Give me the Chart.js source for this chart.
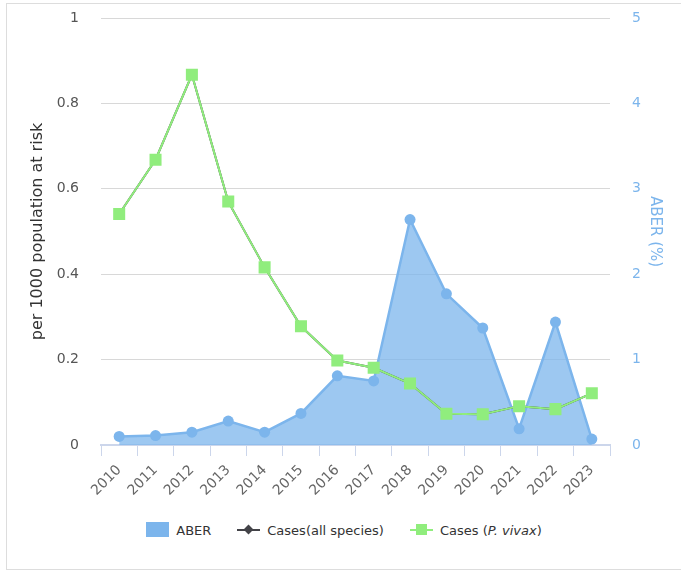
<!DOCTYPE html>
<html>
<head>
<meta charset="utf-8">
<script src="https://cdn.jsdelivr.net/npm/chart.js@4/dist/chart.umd.min.js"></script>
<style>
  body { margin: 0; background: #fff; font-family: "DejaVu Sans", sans-serif; }
  .frame { position: absolute; left: 6px; top: 3px; width: 690px; height: 565px; border: 1px solid #ddd; }
  #wrap { position: absolute; left: 0; top: 0; width: 681px; height: 510px; }
  .legend { position: absolute; left: -3px; top: 521px; width: 694px; display: flex; justify-content: center;
    font-size: 13px; color: #333; }
  .item { display: flex; align-items: center; margin: 0 13px; height: 18px; }
  .sym { position: relative; width: 23px; height: 16px; margin-right: 7px; }
  .box { width: 23px; height: 15px; background: #7cb5ec; }
  .ln { position: absolute; left: 0; right: 0; top: 7px; height: 2px; }
  .dia { position: absolute; left: 8px; top: 4px; width: 7px; height: 7px; background: #434348; transform: rotate(45deg); }
  .sq { position: absolute; left: 6px; top: 2px; width: 11px; height: 11px; background: #90ed7d; }
</style>
</head>
<body>
<div class="frame"></div>
<div id="wrap"><canvas id="chart"></canvas></div>
<div class="legend">
  <div class="item"><div class="sym"><div class="box"></div></div>ABER</div>
  <div class="item"><div class="sym"><div class="ln" style="background:#434348"></div><div class="dia"></div></div>Cases(all species)</div>
  <div class="item"><div class="sym"><div class="ln" style="background:#90ed7d"></div><div class="sq"></div></div>Cases (<i>P. vivax</i>)</div>
</div>
<script>
  const years = ["2010", "2011", "2012", "2013", "2014", "2015", "2016", "2017", "2018", "2019", "2020", "2021", "2022", "2023"];
  // ABER (%) - right axis
  const aber = [0.10, 0.11, 0.15, 0.28, 0.15, 0.37, 0.81, 0.75, 2.64, 1.77, 1.37, 0.19, 1.44, 0.07];
  // cases per 1000 population at risk - left axis
  const casesAll = [0.541, 0.668, 0.867, 0.570, 0.416, 0.278, 0.198, 0.181, 0.144, 0.073, 0.072, 0.091, 0.084, 0.121];
  const casesVivax = [0.541, 0.668, 0.867, 0.570, 0.416, 0.278, 0.198, 0.181, 0.144, 0.073, 0.072, 0.091, 0.084, 0.121];

  const leftTicks = [0, 0.2, 0.4, 0.6, 0.8, 1];

  const font = { family: "DejaVu Sans", size: 14 };

  new Chart(document.getElementById("chart"), {
    type: "line",
    data: {
      labels: years,
      datasets: [
        {
          label: "Cases (P. vivax)",
          data: casesVivax,
          yAxisID: "y",
          order: 0,
          borderColor: "#90ed7d",
          borderWidth: 2,
          pointStyle: "rect",
          pointRadius: 8.5,
          pointBackgroundColor: "#90ed7d",
          pointBorderWidth: 0,
          fill: false,
        },
        {
          label: "Cases(all species)",
          data: casesAll,
          yAxisID: "y",
          order: 1,
          borderColor: "#434348",
          borderWidth: 2,
          pointStyle: "rectRot",
          pointRadius: 5,
          pointBackgroundColor: "#434348",
          pointBorderWidth: 0,
          fill: false,
        },
        {
          label: "ABER",
          data: aber,
          yAxisID: "y1",
          order: 2,
          borderColor: "#7cb5ec",
          borderWidth: 2.5,
          backgroundColor: "rgba(124,181,236,0.75)",
          pointRadius: 5.5,
          pointBackgroundColor: "#7cb5ec",
          pointBorderWidth: 0,
          fill: "origin",
        },
      ],
    },
    options: {
      responsive: true,
      maintainAspectRatio: false,
      animation: false,
      layout: { padding: { top: 18, bottom: 0, left: 0, right: 0 } },
      plugins: {
        legend: { display: false },
        tooltip: { enabled: false },
      },
      scales: {
        x: {
          offset: true,
          afterFit: (scale) => { scale.height = 65; },
          grid: {
            offset: true,
            drawOnChartArea: false,
            drawTicks: true,
            tickLength: 11,
            color: "#ccd6eb",
          },
          border: { color: "#ccd6eb", width: 2 },
          ticks: {
            autoSkip: false,
            maxRotation: 45,
            minRotation: 45,
            padding: 6,
            color: "#666",
            font: { family: "DejaVu Sans", size: 14 },
          },
        },
        y: {
          position: "left",
          min: 0,
          max: 1,
          afterFit: (scale) => { scale.width = 101; },
          afterBuildTicks: (scale) => { scale.ticks = leftTicks.map((v) => ({ value: v })); },
          grid: { color: "#d8d8d8", drawTicks: true, tickLength: 22, tickColor: "rgba(0,0,0,0)" },
          border: { display: false },
          ticks: {
            padding: 0,
            color: "#555",
            font: font,
            callback: (v) => String(v),
          },
          title: {
            display: true,
            text: "per 1000 population at risk",
            color: "#333",
            font: { family: "DejaVu Sans", size: 16 },
            padding: { top: 28, bottom: 0 },
          },
        },
        y1: {
          position: "right",
          min: 0,
          max: 5,
          afterFit: (scale) => { scale.width = 71; },
          grid: { drawOnChartArea: false, drawTicks: true, tickLength: 22, tickColor: "rgba(0,0,0,0)" },
          border: { display: false },
          ticks: {
            stepSize: 1,
            padding: 0,
            color: "#7cb5ec",
            font: font,
          },
          title: {
            display: true,
            text: "ABER (%)",
            color: "#7cb5ec",
            font: { family: "DejaVu Sans", size: 15 },
            padding: { top: 17, bottom: 0 },
          },
        },
      },
    },
  });
</script>
</body>
</html>
